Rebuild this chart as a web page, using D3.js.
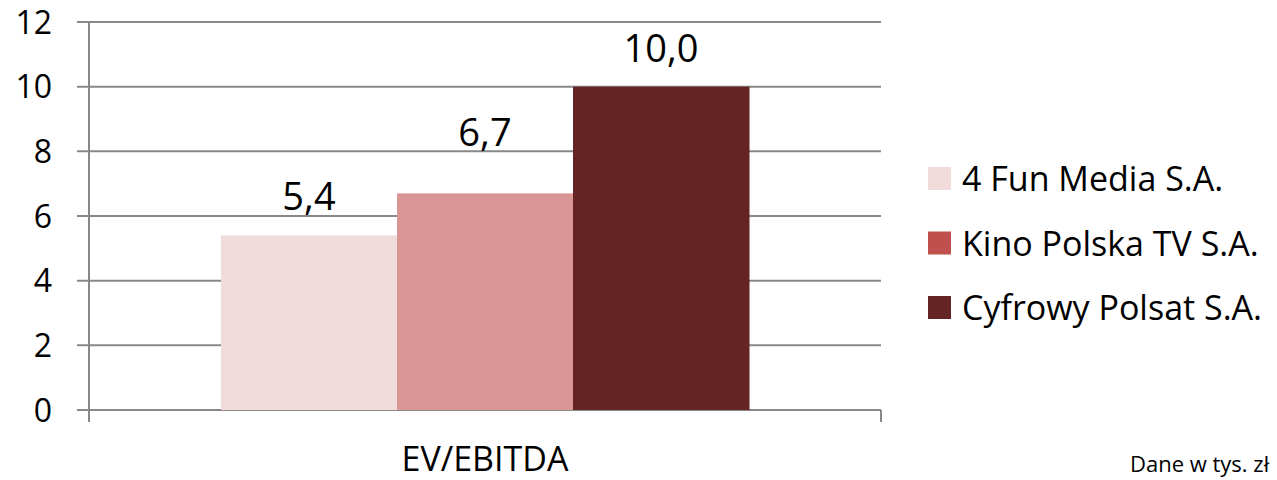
<!DOCTYPE html>
<html>
<head>
<meta charset="utf-8">
<script src="https://cdn.jsdelivr.net/npm/d3@7"></script>
<style>
  body { margin: 0; background: #fff; overflow: hidden; }
  svg text { font-family: 'Open Sans', 'Noto Sans', sans-serif; fill: #000; }
</style>
</head>
<body>
<svg id="chart" width="1277" height="480"></svg>
<script>
const categories = ['EV/EBITDA'];
const seriesNames = ['4 Fun Media S.A.', 'Kino Polska TV S.A.', 'Cyfrowy Polsat S.A.'];
const seriesValues = [5.4, 6.7, 10.0];
const valueLabels = ['5,4', '6,7', '10,0'];
const yTicks = [0, 2, 4, 6, 8, 10, 12];
const barColors = ['#F2DCDB', '#D99694', '#632423'];
const legendColors = ['#F2DCDB', '#C0504D', '#632423'];
const note = 'Dane w tys. zł';

const svg = d3.select('#chart');
const plotLeft = 89, plotRight = 881, plotTop = 22, plotBottom = 410;

const y = d3.scaleLinear().domain([0, 12]).range([plotBottom, plotTop]);
const x0 = d3.scaleBand().domain(categories).range([plotLeft, plotRight]).padding(0);
// excel gap width 150% -> bars take 3/(3+1.5) of band
const groupW = x0.bandwidth() * 3 / 4.5;
const x1 = d3.scaleBand().domain(seriesNames)
  .range([(x0.bandwidth() - groupW) / 2, (x0.bandwidth() + groupW) / 2]).padding(0);

// gridlines
const grid = svg.append('g');
grid.selectAll('line').data(yTicks).enter().append('line')
  .attr('x1', plotLeft - 12).attr('x2', plotRight)
  .attr('y1', d => y(d)).attr('y2', d => y(d))
  .attr('stroke', '#888').attr('stroke-width', 2);

// bars
const g = svg.append('g').attr('transform', `translate(${x0(categories[0])},0)`);
g.selectAll('rect').data(seriesValues).enter().append('rect')
  .attr('x', (d, i) => x1(seriesNames[i]))
  .attr('width', x1.bandwidth() + 0.5)
  .attr('y', d => y(d))
  .attr('height', d => y(0) - y(d))
  .attr('fill', (d, i) => barColors[i]);

// value labels, moved above a gridline when it would cut through the digits
const labelH = 28;
g.selectAll('text.val').data(seriesValues).enter().append('text')
  .attr('class', 'val')
  .attr('x', (d, i) => x1(seriesNames[i]) + x1.bandwidth() / 2)
  .attr('y', d => {
    let b = y(d) - 25;
    yTicks.forEach(t => {
      const gy = y(t);
      if (gy < b && gy > b - labelH) b = gy - 5;
    });
    return b;
  })
  .attr('text-anchor', 'middle')
  .attr('font-size', 38)
  .text((d, i) => valueLabels[i]);

// axis lines
svg.append('line').attr('x1', plotLeft).attr('x2', plotLeft).attr('y1', plotTop).attr('y2', plotBottom + 12)
  .attr('stroke', '#888').attr('stroke-width', 2);
svg.append('line').attr('x1', plotRight).attr('x2', plotRight).attr('y1', plotBottom).attr('y2', plotBottom + 12)
  .attr('stroke', '#888').attr('stroke-width', 2);

// y tick labels
svg.append('g').selectAll('text').data(yTicks).enter().append('text')
  .attr('x', 52).attr('y', d => y(d))
  .attr('dy', '0.36em')
  .attr('text-anchor', 'end')
  .attr('font-size', 32)
  .text(d => d);

// category label
svg.append('text')
  .attr('x', x0(categories[0]) + x0.bandwidth() / 2).attr('y', 471)
  .attr('text-anchor', 'middle').attr('font-size', 34)
  .text(categories[0]);

// legend
const leg = svg.append('g').attr('transform', 'translate(928,167)');
const item = leg.selectAll('g').data(seriesNames).enter().append('g')
  .attr('transform', (d, i) => `translate(0,${i * 64.5})`);
item.append('rect').attr('width', 23).attr('height', 23).attr('fill', (d, i) => legendColors[i]);
item.append('text').attr('x', 34).attr('y', 24)
  .attr('font-size', 34).text(d => d);

svg.append('text').attr('x', 1130).attr('y', 472).attr('font-size', 22).text(note);
</script>
</body>
</html>
